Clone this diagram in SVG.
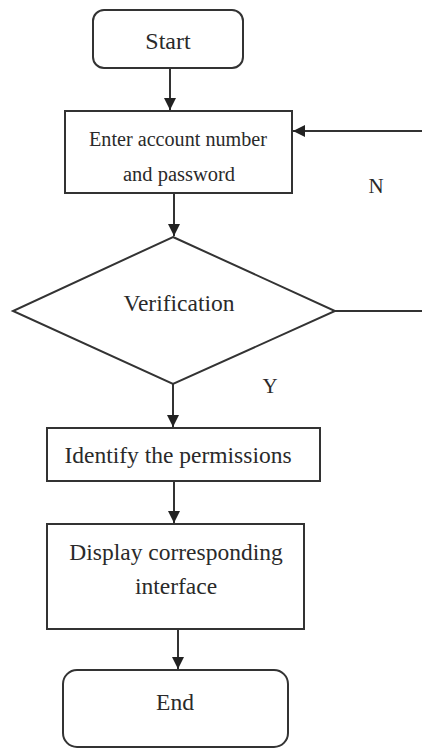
<svg xmlns="http://www.w3.org/2000/svg" width="422" height="751" viewBox="0 0 422 751">
<style>
.box{fill:#fff;stroke:#333;stroke-width:2}
.ln{fill:none;stroke:#333;stroke-width:2}
.t{font-family:"Liberation Serif","Times New Roman",serif;fill:#2a2a2a;text-anchor:middle}
</style>
<defs>
<marker id="ah" viewBox="0 0 10 10" refX="10" refY="5" markerWidth="6" markerHeight="6" orient="auto" markerUnits="strokeWidth">
<path d="M0,0 L10,5 L0,10 Z" fill="#222"/>
</marker>
</defs>
<rect width="422" height="751" fill="#fff"/>
<g id="connectors">
<line class="ln" x1="170" y1="68" x2="170" y2="110" marker-end="url(#ah)"/>
<line class="ln" x1="174" y1="193" x2="174" y2="236" marker-end="url(#ah)"/>
<polyline class="ln" points="335,311 422,311"/>
<line class="ln" x1="422" y1="131" x2="293" y2="131" marker-end="url(#ah)"/>
<line class="ln" x1="173" y1="384" x2="173" y2="427" marker-end="url(#ah)"/>
<line class="ln" x1="174" y1="481" x2="174" y2="523" marker-end="url(#ah)"/>
<line class="ln" x1="178" y1="629" x2="178" y2="669" marker-end="url(#ah)"/>
<text class="t" x="376" y="193" font-size="21">N</text>
<text class="t" x="270" y="393" font-size="21">Y</text>
</g>
<g id="start">
<rect class="box" x="93" y="10" width="150" height="58" rx="11"/>
<text class="t" x="168" y="49" font-size="24">Start</text>
</g>
<g id="enter">
<rect class="box" x="65" y="111" width="227" height="82"/>
<text class="t" x="178" y="146" font-size="20" textLength="178" lengthAdjust="spacingAndGlyphs">Enter account number</text>
<text class="t" x="179" y="181" font-size="20" textLength="112" lengthAdjust="spacingAndGlyphs">and password</text>
</g>
<g id="verify">
<polygon class="box" points="173,237 335,311 173,384 13,311"/>
<text class="t" x="179" y="311" font-size="23.5">Verification</text>
</g>
<g id="identify">
<rect class="box" x="47" y="428" width="273" height="53"/>
<text class="t" x="178" y="463" font-size="23.5">Identify the permissions</text>
</g>
<g id="display">
<rect class="box" x="47" y="524" width="257" height="105"/>
<text class="t" x="176" y="560" font-size="23.5">Display corresponding</text>
<text class="t" x="176" y="594" font-size="23.5">interface</text>
</g>
<g id="end">
<rect class="box" x="63" y="670" width="225" height="77" rx="14"/>
<text class="t" x="175" y="710" font-size="23.5">End</text>
</g>
</svg>
